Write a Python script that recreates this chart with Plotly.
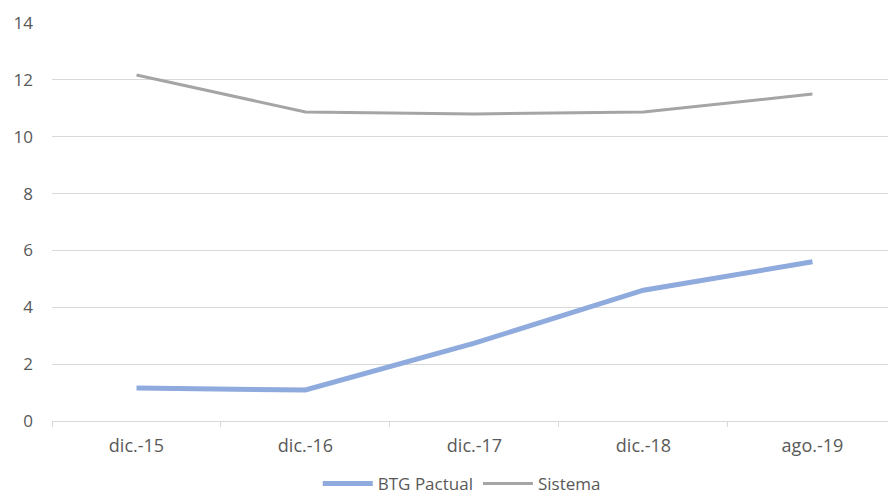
import plotly.graph_objects as go

categories = ["dic.-15", "dic.-16", "dic.-17", "dic.-18", "ago.-19"]
btg = [1.16, 1.09, 2.74, 4.6, 5.6]
sistema = [12.17, 10.87, 10.8, 10.87, 11.5]

fig = go.Figure()
fig.add_trace(go.Scatter(x=categories, y=btg, mode="lines", name="BTG Pactual",
                         line=dict(color="#8faadc", width=5)))
fig.add_trace(go.Scatter(x=categories, y=sistema, mode="lines", name="Sistema",
                         line=dict(color="#a5a5a5", width=3)))

font = dict(family="Open Sans, Noto Sans, sans-serif", size=17, color="#595959")
fig.update_layout(
    width=888, height=499,
    margin=dict(l=52, r=0, t=23, b=78),
    paper_bgcolor="white", plot_bgcolor="white",
    font=font,
    showlegend=True,
    legend=dict(orientation="h", x=0.52, xanchor="center", xref="container",
                y=0.03, yanchor="middle", yref="container",
                font=dict(size=17, color="#595959"), itemwidth=50, tracegroupgap=0),
    xaxis=dict(type="category", range=[-0.5, 4.447], showgrid=False,
               showline=True, linecolor="#d9d9d9", linewidth=1,
               ticks="outside", tickson="boundaries", ticklen=5, tickcolor="#d9d9d9",
               ticklabelstandoff=8,
               tickfont=dict(size=18, color="#595959"), fixedrange=True),
    yaxis=dict(range=[0, 14], dtick=2, showgrid=True, gridcolor="#d9d9d9", gridwidth=1,
               zeroline=False, showline=False, ticks="", ticklabelstandoff=18,
               tickfont=dict(size=17, color="#595959")),
)
fig.write_html("out.html")
